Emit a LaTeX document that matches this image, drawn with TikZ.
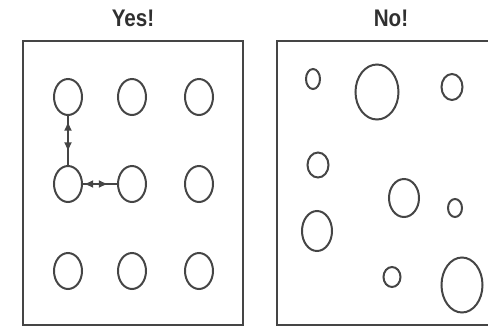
\documentclass[tikz,border=0pt]{standalone}
\usepackage{fontspec}
\newfontfamily\titlefont{Liberation Sans}
\usetikzlibrary{shapes.geometric,decorations.markings,arrows.meta}
\definecolor{ink}{HTML}{454545}
\definecolor{txt}{HTML}{303030}
\newcommand{\ttl}[1]{\scalebox{0.86}[1]{\titlefont\bfseries\fontsize{24}{24}\selectfont #1}}
\begin{document}
\begin{tikzpicture}[x=1pt,y=-1pt,
  frame/.style={draw=ink,line width=2.2pt},
  dot/.style={ellipse,draw=ink,line width=2pt,inner sep=0pt},
  gdot/.style={dot,minimum width=28pt,minimum height=36pt},
  title/.style={text=txt,inner sep=0pt},
  tipa/.style={},
  dbl/.style={draw=ink,line width=1.8pt,postaction={decorate},
    decoration={markings,
      mark=at position 0.3 with {\arrow{Triangle[length=8pt,width=7pt,reversed]}},
      mark=at position 0.7 with {\arrow{Triangle[length=8pt,width=7pt]}}}}]
\useasboundingbox (0,0) rectangle (488,327);
% titles
\node[title] (yes) at (133,18) {\ttl{Yes!}};
\node[title] (no) at (391,18) {\ttl{No!}};
% frames
\draw[frame] (23,41) rectangle (243,325);
\draw[frame] (490,41) -- (277,41) -- (277,325) -- (490,325);
% left grid
\node[gdot] (a1) at (68,97) {};
\node[gdot] (a2) at (132,97) {};
\node[gdot] (a3) at (199,97) {};
\node[gdot] (b1) at (68,184) {};
\node[gdot] (b2) at (132,184) {};
\node[gdot] (b3) at (199,184) {};
\node[gdot] (c1) at (68,271) {};
\node[gdot] (c2) at (132,271) {};
\node[gdot] (c3) at (199,271) {};
\draw[dbl] (a1.south) -- (b1.north);
\draw[dbl] (b1.east) -- (b2.west);
% right scatter
\node[dot,minimum width=14pt,minimum height=20pt] (r1) at (313,79) {};
\node[dot,minimum width=43pt,minimum height=55pt] (r2) at (377,92) {};
\node[dot,minimum width=21pt,minimum height=26pt] (r3) at (452,87) {};
\node[dot,minimum width=21pt,minimum height=25pt] (r4) at (318,165) {};
\node[dot,minimum width=30pt,minimum height=38pt] (r5) at (404,198) {};
\node[dot,minimum width=14pt,minimum height=18pt] (r6) at (455,208) {};
\node[dot,minimum width=30pt,minimum height=40pt] (r7) at (317,231) {};
\node[dot,minimum width=17pt,minimum height=20pt] (r8) at (392,277) {};
\node[dot,minimum width=41pt,minimum height=55pt] (r9) at (462,285) {};
\end{tikzpicture}
\end{document}
